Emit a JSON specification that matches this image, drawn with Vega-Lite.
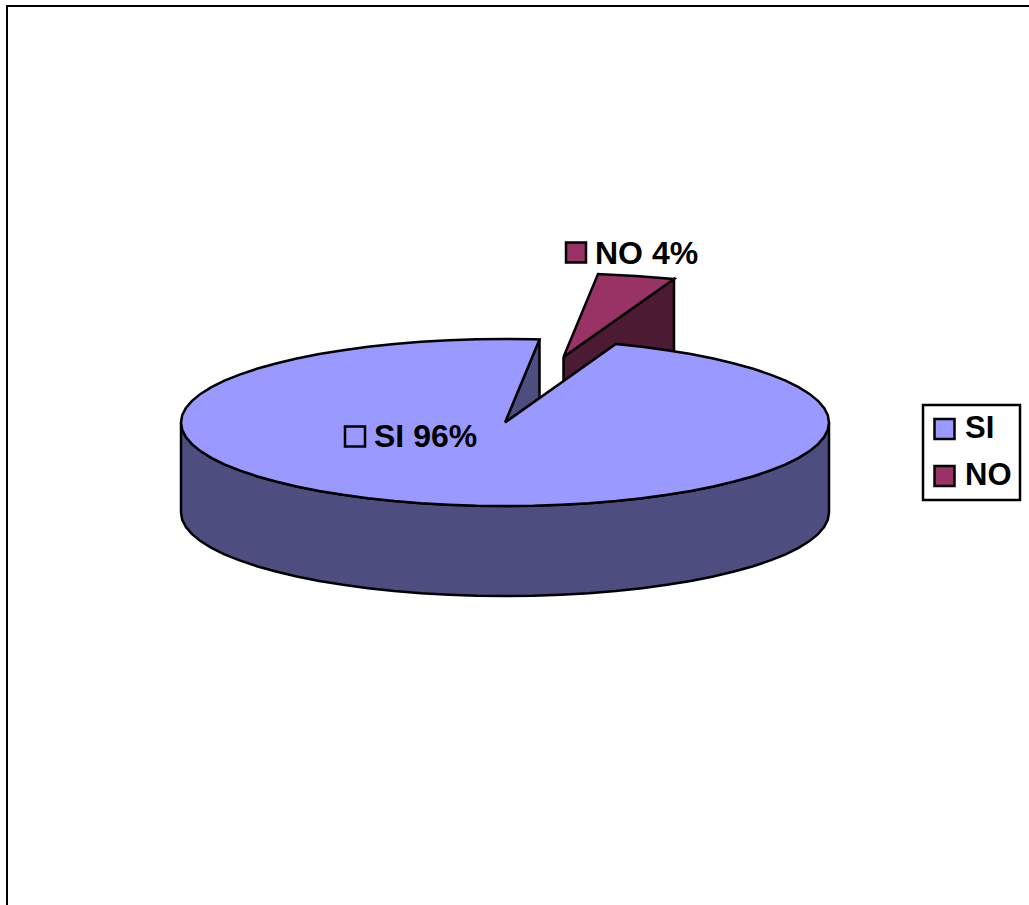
{
  "$schema": "https://vega.github.io/schema/vega-lite/v6.json",
  "width": 1029,
  "height": 905,
  "padding": 0,
  "autosize": "none",
  "background": "white",
  "config": {"view": {"stroke": null}, "legend": {"strokeWidth": 2.5}},
  "datasets": {
    "frame": [
      {"o": 0, "x": -498, "y": -482.5},
      {"o": 1, "x": -498, "y": 416.5},
      {"o": 2, "x": 524, "y": 416.5}
    ],
    "rim": [
      {"x": -324, "y": 0, "y2": -90},
      {"x": -322.8, "y": -7.3, "y2": -97.3},
      {"x": -319.1, "y": -14.5, "y2": -104.5},
      {"x": -313, "y": -21.6, "y2": -111.6},
      {"x": -304.5, "y": -28.6, "y2": -118.6},
      {"x": -293.6, "y": -35.3, "y2": -125.3},
      {"x": -280.6, "y": -41.8, "y2": -131.8},
      {"x": -265.4, "y": -47.9, "y2": -137.9},
      {"x": -248.2, "y": -53.7, "y2": -143.7},
      {"x": -229.1, "y": -59, "y2": -149},
      {"x": -208.3, "y": -64, "y2": -154},
      {"x": -185.8, "y": -68.4, "y2": -158.4},
      {"x": -162, "y": -72.3, "y2": -162.3},
      {"x": -136.9, "y": -75.7, "y2": -165.7},
      {"x": -110.8, "y": -78.5, "y2": -168.5},
      {"x": -83.9, "y": -80.7, "y2": -170.7},
      {"x": -56.2, "y": -82.2, "y2": -172.2},
      {"x": -28.3, "y": -83.2, "y2": -173.2},
      {"x": 0, "y": -83.5, "y2": -173.5},
      {"x": 28.3, "y": -83.2, "y2": -173.2},
      {"x": 56.2, "y": -82.2, "y2": -172.2},
      {"x": 83.9, "y": -80.7, "y2": -170.7},
      {"x": 110.8, "y": -78.5, "y2": -168.5},
      {"x": 136.9, "y": -75.7, "y2": -165.7},
      {"x": 162, "y": -72.3, "y2": -162.3},
      {"x": 185.8, "y": -68.4, "y2": -158.4},
      {"x": 208.3, "y": -64, "y2": -154},
      {"x": 229.1, "y": -59, "y2": -149},
      {"x": 248.2, "y": -53.7, "y2": -143.7},
      {"x": 265.4, "y": -47.9, "y2": -137.9},
      {"x": 280.6, "y": -41.8, "y2": -131.8},
      {"x": 293.6, "y": -35.3, "y2": -125.3},
      {"x": 304.5, "y": -28.6, "y2": -118.6},
      {"x": 313, "y": -21.6, "y2": -111.6},
      {"x": 319.1, "y": -14.5, "y2": -104.5},
      {"x": 322.8, "y": -7.3, "y2": -97.3},
      {"x": 324, "y": 0, "y2": -90}
    ],
    "siCut": [
      {"o": 0, "x": 0, "y": 0},
      {"o": 1, "x": 34.5, "y": 83},
      {"o": 2, "x": 34.5, "y": 24},
      {"o": 3, "x": 0, "y": 0}
    ],
    "noSide": [
      {"o": 0, "x": 58.5, "y": 65.5},
      {"o": 1, "x": 169, "y": 143.5},
      {"o": 2, "x": 169, "y": 71},
      {"o": 3, "x": 110.8, "y": 78.5},
      {"o": 4, "x": 58.5, "y": 41},
      {"o": 5, "x": 58.5, "y": 65.5}
    ],
    "noTop": [
      {"serie": "NO", "o": 0, "x": 58.5, "y": 65.5},
      {"serie": "NO", "o": 1, "x": 93, "y": 148.5},
      {"serie": "NO", "o": 2, "x": 131, "y": 146.5},
      {"serie": "NO", "o": 3, "x": 169, "y": 143.5},
      {"serie": "NO", "o": 4, "x": 58.5, "y": 65.5}
    ],
    "siTop": [
      {"serie": "SI", "o": 0, "x": 0, "y": 0},
      {"serie": "SI", "o": 1, "x": 110.8, "y": 78.5},
      {"serie": "SI", "o": 2, "x": 136.9, "y": 75.7},
      {"serie": "SI", "o": 3, "x": 162, "y": 72.3},
      {"serie": "SI", "o": 4, "x": 185.8, "y": 68.4},
      {"serie": "SI", "o": 5, "x": 208.3, "y": 64},
      {"serie": "SI", "o": 6, "x": 229.1, "y": 59},
      {"serie": "SI", "o": 7, "x": 248.2, "y": 53.7},
      {"serie": "SI", "o": 8, "x": 265.4, "y": 47.9},
      {"serie": "SI", "o": 9, "x": 280.6, "y": 41.8},
      {"serie": "SI", "o": 10, "x": 293.6, "y": 35.3},
      {"serie": "SI", "o": 11, "x": 304.5, "y": 28.6},
      {"serie": "SI", "o": 12, "x": 313, "y": 21.6},
      {"serie": "SI", "o": 13, "x": 319.1, "y": 14.5},
      {"serie": "SI", "o": 14, "x": 322.8, "y": 7.3},
      {"serie": "SI", "o": 15, "x": 324, "y": 0},
      {"serie": "SI", "o": 16, "x": 322.8, "y": -7.3},
      {"serie": "SI", "o": 17, "x": 319.1, "y": -14.5},
      {"serie": "SI", "o": 18, "x": 313, "y": -21.6},
      {"serie": "SI", "o": 19, "x": 304.5, "y": -28.6},
      {"serie": "SI", "o": 20, "x": 293.6, "y": -35.3},
      {"serie": "SI", "o": 21, "x": 280.6, "y": -41.8},
      {"serie": "SI", "o": 22, "x": 265.4, "y": -47.9},
      {"serie": "SI", "o": 23, "x": 248.2, "y": -53.7},
      {"serie": "SI", "o": 24, "x": 229.1, "y": -59},
      {"serie": "SI", "o": 25, "x": 208.3, "y": -64},
      {"serie": "SI", "o": 26, "x": 185.8, "y": -68.4},
      {"serie": "SI", "o": 27, "x": 162, "y": -72.3},
      {"serie": "SI", "o": 28, "x": 136.9, "y": -75.7},
      {"serie": "SI", "o": 29, "x": 110.8, "y": -78.5},
      {"serie": "SI", "o": 30, "x": 83.9, "y": -80.7},
      {"serie": "SI", "o": 31, "x": 56.2, "y": -82.2},
      {"serie": "SI", "o": 32, "x": 28.3, "y": -83.2},
      {"serie": "SI", "o": 33, "x": 0, "y": -83.5},
      {"serie": "SI", "o": 34, "x": -28.3, "y": -83.2},
      {"serie": "SI", "o": 35, "x": -56.2, "y": -82.2},
      {"serie": "SI", "o": 36, "x": -83.9, "y": -80.7},
      {"serie": "SI", "o": 37, "x": -110.8, "y": -78.5},
      {"serie": "SI", "o": 38, "x": -136.9, "y": -75.7},
      {"serie": "SI", "o": 39, "x": -162, "y": -72.3},
      {"serie": "SI", "o": 40, "x": -185.8, "y": -68.4},
      {"serie": "SI", "o": 41, "x": -208.3, "y": -64},
      {"serie": "SI", "o": 42, "x": -229.1, "y": -59},
      {"serie": "SI", "o": 43, "x": -248.2, "y": -53.7},
      {"serie": "SI", "o": 44, "x": -265.4, "y": -47.9},
      {"serie": "SI", "o": 45, "x": -280.6, "y": -41.8},
      {"serie": "SI", "o": 46, "x": -293.6, "y": -35.3},
      {"serie": "SI", "o": 47, "x": -304.5, "y": -28.6},
      {"serie": "SI", "o": 48, "x": -313, "y": -21.6},
      {"serie": "SI", "o": 49, "x": -319.1, "y": -14.5},
      {"serie": "SI", "o": 50, "x": -322.8, "y": -7.3},
      {"serie": "SI", "o": 51, "x": -324, "y": 0},
      {"serie": "SI", "o": 52, "x": -322.8, "y": 7.3},
      {"serie": "SI", "o": 53, "x": -319.1, "y": 14.5},
      {"serie": "SI", "o": 54, "x": -313, "y": 21.6},
      {"serie": "SI", "o": 55, "x": -304.5, "y": 28.6},
      {"serie": "SI", "o": 56, "x": -293.6, "y": 35.3},
      {"serie": "SI", "o": 57, "x": -280.6, "y": 41.8},
      {"serie": "SI", "o": 58, "x": -265.4, "y": 47.9},
      {"serie": "SI", "o": 59, "x": -248.2, "y": 53.7},
      {"serie": "SI", "o": 60, "x": -229.1, "y": 59},
      {"serie": "SI", "o": 61, "x": -208.3, "y": 64},
      {"serie": "SI", "o": 62, "x": -185.8, "y": 68.4},
      {"serie": "SI", "o": 63, "x": -162, "y": 72.3},
      {"serie": "SI", "o": 64, "x": -136.9, "y": 75.7},
      {"serie": "SI", "o": 65, "x": -110.8, "y": 78.5},
      {"serie": "SI", "o": 66, "x": -83.9, "y": 80.7},
      {"serie": "SI", "o": 67, "x": -56.2, "y": 82.2},
      {"serie": "SI", "o": 68, "x": -28.3, "y": 83.2},
      {"serie": "SI", "o": 69, "x": 0, "y": 83.5},
      {"serie": "SI", "o": 70, "x": 28.3, "y": 83.2},
      {"serie": "SI", "o": 71, "x": 34.5, "y": 83},
      {"serie": "SI", "o": 72, "x": 0, "y": 0}
    ],
    "labels": [
      {"serie": "SI", "pct": 96, "label": "SI 96%", "kx": -150, "ky": -14, "tx": -131, "ty": -14},
      {"serie": "NO", "pct": 4, "label": "NO 4%", "kx": 71, "ky": 170, "tx": 90, "ty": 169}
    ]
  },
  "layer": [
    {
      "data": {"name": "frame"},
      "mark": {"type": "line", "stroke": "black", "strokeWidth": 2, "clip": true},
      "encoding": {
        "x": {"field": "x", "type": "quantitative", "scale": {"domain": [-505, 524], "nice": false, "zero": false}, "axis": null},
        "y": {"field": "y", "type": "quantitative", "scale": {"domain": [-482.5, 422.5], "nice": false, "zero": false}, "axis": null},
        "order": {"field": "o"}
      }
    },
    {
      "data": {"name": "rim"},
      "mark": {"type": "area", "fill": "#4D4D80", "stroke": "black", "strokeWidth": 2.5},
      "encoding": {
        "x": {"field": "x", "type": "quantitative"},
        "y": {"field": "y", "type": "quantitative"},
        "y2": {"field": "y2"}
      }
    },
    {
      "data": {"name": "siCut"},
      "mark": {"type": "line", "fill": "#4D4D80", "stroke": "black", "strokeWidth": 2.5, "strokeJoin": "miter"},
      "encoding": {
        "x": {"field": "x", "type": "quantitative"},
        "y": {"field": "y", "type": "quantitative"},
        "order": {"field": "o"}
      }
    },
    {
      "data": {"name": "noSide"},
      "mark": {"type": "line", "fill": "#4D1A33", "stroke": "black", "strokeWidth": 2.5, "strokeJoin": "miter"},
      "encoding": {
        "x": {"field": "x", "type": "quantitative"},
        "y": {"field": "y", "type": "quantitative"},
        "order": {"field": "o"}
      }
    },
    {
      "data": {"name": "noTop"},
      "mark": {"type": "line", "fill": "#993366", "stroke": "black", "strokeWidth": 2.5, "strokeJoin": "miter"},
      "encoding": {
        "x": {"field": "x", "type": "quantitative"},
        "y": {"field": "y", "type": "quantitative"},
        "order": {"field": "o"}
      }
    },
    {
      "data": {"name": "siTop"},
      "mark": {"type": "line", "fill": "#9999FF", "stroke": "black", "strokeWidth": 2.5, "strokeJoin": "miter"},
      "encoding": {
        "x": {"field": "x", "type": "quantitative"},
        "y": {"field": "y", "type": "quantitative"},
        "order": {"field": "o"}
      }
    },
    {
      "data": {"name": "labels"},
      "mark": {"type": "point", "shape": "square", "filled": true, "size": 400, "opacity": 1, "stroke": "black", "strokeWidth": 2.5},
      "encoding": {
        "x": {"field": "kx", "type": "quantitative"},
        "y": {"field": "ky", "type": "quantitative"},
        "fill": {
          "field": "serie",
          "type": "nominal",
          "scale": {"domain": ["SI", "NO"], "range": ["#9999FF", "#993366"]},
          "legend": {
            "title": null,
            "orient": "none",
            "legendX": 923,
            "legendY": 405,
            "padding": 8.5,
            "fillColor": "white",
            "strokeColor": "black",
            "symbolType": "square",
            "symbolSize": 400,
            "symbolOffset": -2.5,
            "symbolStrokeColor": "black",
            "symbolStrokeWidth": 2.5,
            "symbolOpacity": 1,
            "labelFont": "Liberation Sans",
            "labelFontWeight": "bold",
            "labelFontSize": 31,
            "labelColor": "black",
            "labelOffset": 5,
            "rowPadding": 15
          }
        }
      }
    },
    {
      "data": {"name": "labels"},
      "mark": {"type": "text", "font": "Liberation Sans", "fontWeight": "bold", "fontSize": 32, "align": "left", "baseline": "middle", "color": "black"},
      "encoding": {
        "x": {"field": "tx", "type": "quantitative"},
        "y": {"field": "ty", "type": "quantitative"},
        "text": {"field": "label"}
      }
    }
  ]
}
